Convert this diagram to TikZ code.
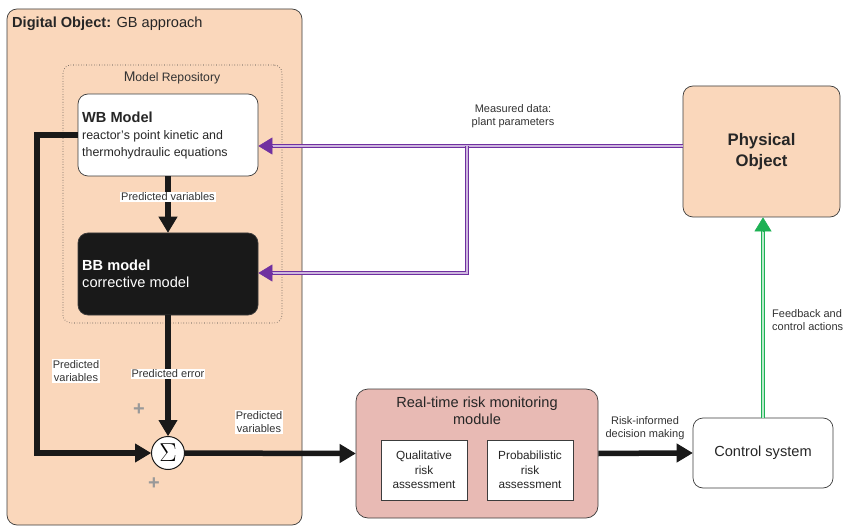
\documentclass[tikz,border=0pt]{standalone}
\usepackage{fontspec}
\setmainfont{Liberation Sans}
\usetikzlibrary{arrows.meta,calc}
\definecolor{peach}{HTML}{FAD7BB}
\definecolor{riskfill}{HTML}{E8BAB4}
\definecolor{purp}{HTML}{7030A0}
\definecolor{grn}{HTML}{1DB154}
\definecolor{txt}{HTML}{333333}
\definecolor{edge}{HTML}{3C3C3C}
\tikzset{
  box/.style={draw=edge, line width=0.7pt, rounded corners=10pt, inner sep=0pt},
  lbl/.style={text=txt, font=\fontsize{11}{13}\selectfont, align=center, inner sep=1pt},
  wlbl/.style={lbl, fill=white},
  flow/.style={draw=black!90, line width=5.5pt},
  flowtip/.style={-{Triangle[length=16pt,width=19pt]}, draw=black!90, fill=black!90, line width=1pt},
  pline/.style={draw=purp, line width=0.8pt, double=purp!35, double distance=1.8pt},
  ptip/.style={-{Triangle[length=14pt,width=17pt]}, draw=purp, fill=purp, line width=0.5pt},
  gline/.style={draw=grn, line width=0.8pt, double=grn!30, double distance=1.8pt},
  gtip/.style={-{Triangle[length=14pt,width=17pt]}, draw=grn, fill=grn, line width=0.5pt},
  plus/.style={text=black!40, font=\fontsize{20}{20}\selectfont\bfseries, inner sep=0pt}
}
\begin{document}
\begin{tikzpicture}[x=1pt,y=-1pt]
\useasboundingbox[fill=white] (0,0) rectangle (845,526);

% Digital object panel and model repository
\node[box, fill=peach, minimum width=295pt, minimum height=516pt] (panel) at (154.5,267) {};
\node[anchor=west, text=black!85, inner sep=0pt, font=\fontsize{14.6}{16}\selectfont] (ptitle) at (12,24)
  {\textbf{Digital Object:} GB approach};
\node[draw=edge, dotted, line width=0.6pt, rounded corners=8pt, minimum width=219pt, minimum height=258pt] (repo) at (172.5,194) {};
\node[text=txt, inner sep=0pt, font=\fontsize{12}{14}\selectfont] (rtitle) at (172,78) {\fontsize{14}{14}\selectfont M\fontsize{12.2}{14}\selectfont odel Repository};

% WB and BB models
\node[box, fill=white, minimum width=180pt, minimum height=82pt] (wb) at (168,135) {};
\node[anchor=west, align=left, text=black!85, inner sep=0pt, font=\fontsize{12.4}{17}\selectfont] (wbt) at (82,135)
  {{\fontsize{14.6}{17}\selectfont\bfseries WB Model}\\reactor’s point kinetic and\\thermohydraulic equations};
\node[box, fill=black!90, minimum width=180pt, minimum height=82pt] (bb) at (168,274) {};
\node[anchor=west, align=left, text=white, inner sep=0pt, font=\fontsize{14.6}{17}\selectfont] (bbt) at (82,274)
  {\textbf{BB model}\\corrective model};

% Summation node
\node[draw=black!90, line width=1pt, circle, fill=white, minimum size=33pt, inner sep=0pt] (sig) at (168,453) {\scalebox{1.25}{\fontsize{20}{20}\selectfont$\Sigma$}};
\node[plus] (p1) at (139,410) {+};
\node[plus] (p2) at (154,484) {+};

% Risk monitoring module
\node[box, fill=riskfill, rounded corners=12pt, minimum width=242pt, minimum height=129pt] (risk) at (477,453.5) {};
\node[text=black!85, align=center, inner sep=0pt, font=\fontsize{14.6}{17}\selectfont] (risktitle) at (477,411)
  {Real-time risk monitoring\\module};
\node[draw=edge, line width=0.6pt, fill=white, minimum width=86pt, minimum height=60pt, align=center, text=black!85,
  font=\fontsize{11.8}{14.5}\selectfont, inner sep=0pt] (qual) at (424,470) {Qualitative\\risk\\assessment};
\node[draw=edge, line width=0.6pt, fill=white, minimum width=86pt, minimum height=60pt, align=center, text=black!85,
  font=\fontsize{11.8}{14.5}\selectfont, inner sep=0pt] (prob) at (530,470) {Probabilistic\\risk\\assessment};

% Control system and physical object
\node[box, fill=white, minimum width=140pt, minimum height=70pt, text=black!85, font=\fontsize{14.6}{16}\selectfont] (ctrl) at (763,453) {Control system};
\node[box, fill=peach, minimum width=157pt, minimum height=131pt, align=center, text=black!85,
  font=\fontsize{16.7}{21}\selectfont\bfseries] (phys) at (761.5,151.5) {Physical\\Object};

% Black flows
\draw[flow] (wb.south) -- ($(bb.north)+(0,-14)$);
\draw[flowtip] ($(bb.north)+(0,-16)$) -- (bb.north);
\node[wlbl] (l1) at (168,197) {Predicted variables};

\draw[flow] (bb.south) -- ($(sig.north)+(0,-14)$);
\draw[flowtip] ($(sig.north)+(0,-16)$) -- (sig.north);
\node[wlbl] (l2) at (168,374) {Predicted error};

\coordinate (lc1) at (37,135);
\coordinate (lc2) at (37,453);
\draw[flow, line join=miter] (wb.west) -- (lc1) -- (lc2) -- ($(sig.west)+(-14,0)$);
\draw[flowtip] ($(sig.west)+(-16,0)$) -- (sig.west);
\node[wlbl] (l3) at (76,371) {Predicted\\variables};

\draw[flow] (sig.east) -- ($(risk.west)+(-14,0)$);
\draw[flowtip] ($(risk.west)+(-16,0)$) -- (risk.west);
\node[wlbl] (l4) at (259,422) {Predicted\\variables};

\draw[flow] (risk.east) -- ($(ctrl.west)+(-14,0)$);
\draw[flowtip] ($(ctrl.west)+(-16,0)$) -- (ctrl.west);
\node[lbl] (l5) at (645,428) {Risk-informed\\decision making};

% Measured data (purple)
\coordinate (pm) at (phys.west |- 0,146);
\coordinate (wbin) at (wb.east |- 0,146);
\coordinate (jn) at (467,146);
\coordinate (jd) at (467,273);
\coordinate (bbin) at (bb.east |- 0,273);
\draw[pline] (pm) -- ($(wbin)+(12,0)$);
\draw[pline] (jn) -- (jd) -- ($(bbin)+(12,0)$);
\draw[ptip] ($(wbin)+(14,0)$) -- (wbin);
\draw[ptip] ($(bbin)+(14,0)$) -- (bbin);
\node[lbl] (l6) at (513,116) {Measured data:\\plant parameters};

% Feedback (green)
\draw[gline] (ctrl.north) -- ($(phys.south -| ctrl.north)+(0,12)$);
\draw[gtip] ($(phys.south -| ctrl.north)+(0,14)$) -- (phys.south -| ctrl.north);
\node[lbl, align=left, anchor=west] (l7) at (771,320) {Feedback and\\control actions};
\end{tikzpicture}
\end{document}
